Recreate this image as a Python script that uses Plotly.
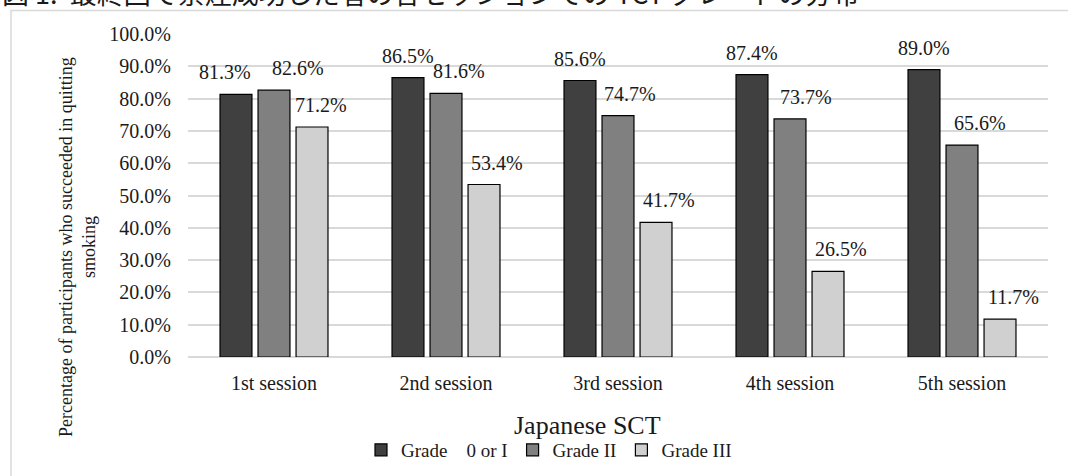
import plotly.graph_objects as go

# ---- data ----
sessions = ["1st session", "2nd session", "3rd session", "4th session", "5th session"]
grade_0_I = [81.3, 86.5, 85.6, 87.4, 89.0]
grade_II = [82.6, 81.6, 74.7, 73.7, 65.6]
grade_III = [71.2, 53.4, 41.7, 26.5, 11.7]
series_names = ["Grade\u00a0\u00a0\u00a0\u00a00 or I", "Grade II", "Grade III"]
y_tick_values = [0, 10, 20, 30, 40, 50, 60, 70, 80, 90, 100]
y_tick_labels = ["0.0%", "10.0%", "20.0%", "30.0%", "40.0%", "50.0%",
                 "60.0%", "70.0%", "80.0%", "90.0%", "100.0%"]
title_text = "図 1.  最終回で禁煙成功した者の各セッションでの TCT グレードの分布"
y_title = "Percentage of participants who succeeded in quitting<br>smoking"
x_title = "Japanese SCT"

# ---- style ----
colors = ["#404040", "#808080", "#d0d0d0"]
label_dx = [[-11, 0, 0, 0, 0], [24, 13, 12, 16, 18], [9, 13, 13, 13, 13]]
SERIF = "Liberation Serif, Times New Roman, serif"
W, H = 1068, 476
ML, MR, MT, MB = 188, 20, 34, 119
PW = W - ML - MR
PH = H - MT - MB
BARGAP = 0.337
BARGROUPGAP = 0.16

def px_to_paper_x(px):
    return (px - ML) / PW

def px_to_paper_y(py):
    return (H - MB - py) / PH

series = [grade_0_I, grade_II, grade_III]

fig = go.Figure()
for name, vals, col in zip(series_names, series, colors):
    fig.add_trace(go.Bar(
        x=sessions, y=vals, name=name,
        marker=dict(color=col, line=dict(color="#000000", width=1.2)),
        hoverinfo="skip",
    ))

# data labels
cat_w = PW / len(sessions)
slot = cat_w * (1 - BARGAP) / 3
anns = []
for si, vals in enumerate(series):
    for ci, v in enumerate(vals):
        anns.append(dict(
            x=sessions[ci], y=v, xref="x", yref="y",
            xanchor="center", yanchor="middle",
            text=f"{v:.1f}%", showarrow=False,
            xshift=(si - 1) * slot + label_dx[si][ci], yshift=22,
            font=dict(family=SERIF, size=20, color="#1a1a1a"),
        ))

anns.append(dict(
    x=px_to_paper_x(77), y=px_to_paper_y(247), xref="paper", yref="paper",
    xanchor="center", yanchor="middle",
    text=y_title, textangle=-90, showarrow=False, align="center",
    font=dict(family=SERIF, size=18, color="#1a1a1a"),
))
anns.append(dict(
    x=px_to_paper_x(587), y=px_to_paper_y(425), xref="paper", yref="paper",
    xanchor="center", yanchor="middle",
    text=x_title, showarrow=False,
    font=dict(family=SERIF, size=26, color="#1a1a1a"),
))
anns.append(dict(
    x=px_to_paper_x(0), y=px_to_paper_y(-8), xref="paper", yref="paper",
    xanchor="left", yanchor="middle",
    text=title_text, showarrow=False,
    font=dict(family="Noto Sans CJK JP", size=27, color="#1a1a1a"),
))

fig.update_layout(
    width=W, height=H,
    margin=dict(l=ML, r=MR, t=MT, b=MB, pad=0, autoexpand=False),
    paper_bgcolor="white", plot_bgcolor="white",
    barmode="group", bargap=BARGAP, bargroupgap=BARGROUPGAP,
    font=dict(family=SERIF, size=20, color="#1a1a1a"),
    showlegend=True,
    legend=dict(
        orientation="h", x=px_to_paper_x(549), y=px_to_paper_y(450),
        xanchor="center", yanchor="middle",
        font=dict(family=SERIF, size=19, color="#1a1a1a"),
        itemwidth=30, tracegroupgap=0,
    ),
    annotations=anns,
    shapes=[dict(
        type="rect", xref="paper", yref="paper",
        x0=px_to_paper_x(11), x1=px_to_paper_x(W + 20),
        y0=px_to_paper_y(H + 20), y1=px_to_paper_y(10.5),
        line=dict(color="#d9d9d9", width=1.5), fillcolor="rgba(0,0,0,0)",
        layer="below",
    )],
    xaxis=dict(
        showline=False, ticks="", showgrid=False,
        tickfont=dict(family=SERIF, size=20, color="#1a1a1a"),
        ticklabelstandoff=12,
    ),
    yaxis=dict(
        range=[0, 100], tickmode="array", tickvals=y_tick_values, ticktext=y_tick_labels,
        showgrid=True, gridcolor="#d9d9d9", gridwidth=1.5,
        zeroline=True, zerolinecolor="#d9d9d9", zerolinewidth=1.5,
        showline=False, ticks="",
        tickfont=dict(family=SERIF, size=20, color="#1a1a1a"),
        ticklabelstandoff=16,
    ),
)

fig.write_html("out.html", config={"displayModeBar": False},
               post_script="document.body.style.margin='0';")
